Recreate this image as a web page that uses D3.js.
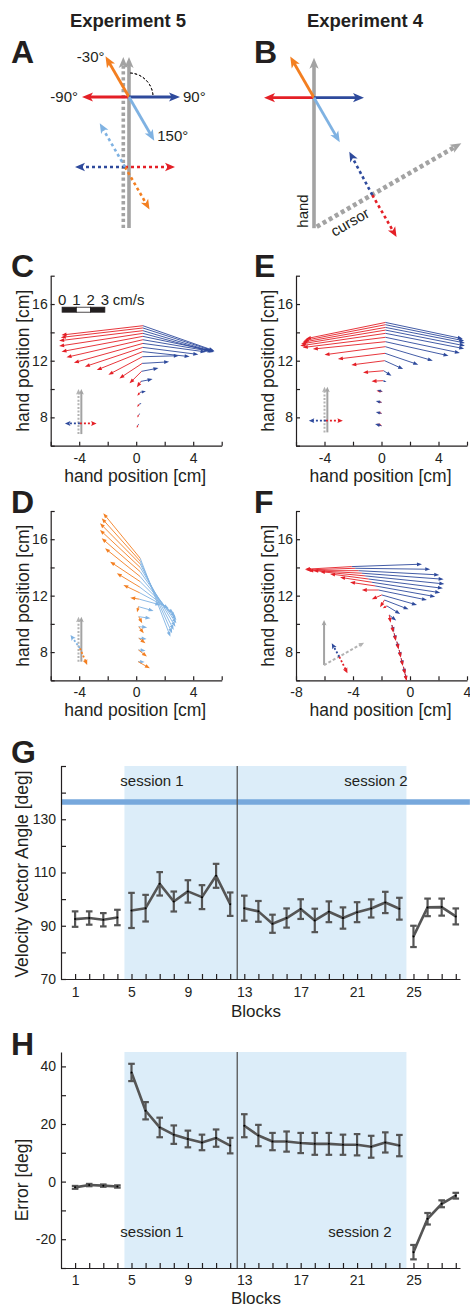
<!DOCTYPE html>
<html>
<head>
<meta charset="utf-8">
<script src="https://cdn.jsdelivr.net/npm/d3@7"></script>
<style>
  body { margin: 0; background: #fff; }
  svg { display: block; }
  text { font-family: "Liberation Sans", Arial, Helvetica, sans-serif; fill: #231f20; }
</style>
</head>
<body>
<svg id="fig" width="470" height="1308"></svg>
<script>
// ---------- data: panels G and H ----------
const blocks = d3.range(1, 29);
const angleMean = [92.5, 92.9, 92.25, 93.1, 95.75, 96.6, 105.75, 99.1, 102.9, 100.75, 108.75, 98.1, 96.6, 95.4,
  90.75, 92.9, 96.25, 92.0, 95.25, 92.9, 95.1, 96.5, 98.75, 96.4, 86.0, 96.9, 97.0, 93.5];
const angleErr = [2.9, 2.5, 2.5, 2.9, 6.6, 5.0, 4.4, 3.75, 4.2, 4.5, 4.5, 4.4, 4.7, 3.9,
  3.4, 3.6, 3.7, 4.4, 3.9, 4.0, 3.75, 3.4, 4.0, 4.1, 4.0, 3.3, 3.2, 3.0];
const errorMean = [-2.0, -1.2, -1.4, -1.7, 37.9, 24.6, 18.8, 16.3, 14.8, 13.6, 15.1, 12.5, 19.4, 16.0,
  13.9, 13.9, 13.4, 13.1, 13.1, 12.8, 12.8, 12.1, 13.6, 12.5, -24.5, -12.9, -7.7, -4.9];
const errorErr = [0.5, 0.4, 0.4, 0.4, 3.0, 3.0, 3.4, 3.2, 2.9, 2.7, 3.0, 2.7, 4.0, 3.7,
  3.0, 3.5, 3.5, 3.8, 3.8, 3.5, 3.7, 3.8, 3.5, 3.7, 2.5, 2.0, 1.2, 1.0];
const phases = [[1, 4], [5, 12], [13, 24], [25, 28]];
const sessionSpan = [4.5, 24.5];
const sessionSplit = 12.5;
const targetAngle = 136.5;
const blockTickLabels = [1, 5, 9, 13, 17, 21, 25];

// ---------- data: vector fields (positions cm, velocities cm/s) ----------
const cPosX = [0.47, 0.47, 0.47, 0.47, 0.47, 0.47, 0.47, 0.46, 0.45, 0.44, 0.42, 0.38, 0.33, 0.28, 0.22, 0.18, 0.12];
const cPosY = [14.47, 14.31, 14.12, 13.93, 13.72, 13.48, 13.22, 12.94, 12.64, 12.28, 11.81, 11.25, 10.54, 9.77, 8.94, 8.19, 7.45];
const cRedVx = [-5.71, -5.76, -5.88, -5.88, -5.71, -5.36, -4.84, -4.06, -3.22, -2.39, -1.6, -0.85, -0.28, -0.2, -0.15, -0.1, -0.08];
const cRedVy = [-0.66, -0.67, -0.71, -0.9, -1.08, -1.24, -1.36, -1.36, -1.3, -1.27, -1.06, -0.85, -0.42, -0.25, -0.2, -0.2, -0.2];
const cBlueVx = [4.99, 5.03, 4.99, 4.89, 4.75, 4.65, 4.4, 3.9, 3.3, 2.55, 1.89, 1.18, 0.82, 0.4, 0.15, 0.1, 0.08];
const cBlueVy = [-1.76, -1.65, -1.51, -1.32, -1.01, -0.8, -0.6, -0.5, -0.35, 0.07, 0.11, 0.23, 0.16, 0.07, 0.05, 0.08, 0.1];

const ePosX = [0.28, 0.28, 0.28, 0.28, 0.28, 0.28, 0.28, 0.27, 0.25, 0.22, 0.15, 0.1, 0.05, 0.0, 0.0, 0.0];
const ePosY = [14.7, 14.54, 14.35, 14.16, 13.93, 13.65, 13.34, 12.99, 12.52, 12.0, 11.29, 10.59, 9.83, 9.06, 8.28, 7.41];
const eRedVx = [-5.58, -5.73, -5.83, -5.93, -5.98, -5.8, -5.1, -4.27, -3.31, -2.34, -1.45, -0.8, -0.4, -0.3, -0.3, -0.3];
const eRedVy = [-1.15, -1.12, -1.05, -0.98, -0.88, -0.72, -0.52, -0.57, -0.4, -0.3, -0.12, -0.04, 0.05, 0.05, 0.1, 0.15];
const eBlueVx = [5.42, 5.52, 5.57, 5.57, 5.52, 5.22, 4.42, 3.33, 2.33, 1.3, 0.55, 0.25, -0.35, -0.4, -0.4, -0.45];
const eBlueVy = [-1.15, -1.14, -1.1, -1.11, -1.08, -1.1, -0.99, -0.99, -0.8, -0.59, -0.35, -0.1, 0.1, 0.1, 0.1, 0.12];

const dPosX = [0.28, 0.28, 0.28, 0.28, 0.28, 0.28, 0.27, 0.26, 0.25, 0.22, 0.16, 0.18, 0.18, 0.18, 0.16, 0.14];
const dPosY = [14.65, 14.45, 14.25, 14.0, 13.7, 13.35, 13.0, 12.6, 12.2, 11.75, 11.22, 10.51, 9.8, 8.98, 8.15, 7.32];
const dOrangeVx = [-2.59, -2.7, -2.82, -2.82, -2.7, -2.47, -2.1, -1.62, -1.15, -0.64, -0.1, 0.24, 0.35, 0.47, 0.59, 0.82];
const dOrangeVy = [3.19, 3.04, 2.88, 2.66, 2.37, 2.01, 1.41, 0.99, 0.56, 0.11, -0.4, -0.47, -0.47, -0.35, -0.47, -0.47];
const dLightVx = [2.12, 2.24, 2.35, 2.47, 2.54, 2.54, 2.48, 2.37, 2.03, 1.47, 1.06, 0.82, 0.59, 0.55, 0.5, 0.45];
const dLightVy = [-5.56, -5.12, -4.68, -4.2, -3.66, -3.07, -2.49, -1.85, -1.1, -0.41, -0.3, -0.12, -0.05, -0.05, -0.05, -0.02];

const fPosX = [-4.09, -3.85, -3.62, -3.38, -3.15, -2.92, -2.68, -2.45, -2.21, -1.98, -1.79, -1.62, -1.46, -1.27, -1.11, -0.92, -0.76, -0.62, -0.46, -0.34];
const fPosY = [14.06, 13.94, 13.77, 13.59, 13.4, 13.18, 12.95, 12.69, 12.4, 12.05, 11.69, 11.27, 10.63, 9.92, 9.33, 8.74, 8.15, 7.56, 6.96, 6.45];
const fRedVx = [-3.28, -3.45, -3.52, -3.41, -3.17, -2.69, -2.23, -1.76, -1.17, -0.7, -0.31, -0.29, 0.1, 0.1, 0.12, 0.12, 0.12, 0.12, 0.12, 0.1];
const fRedVy = [-0.19, -0.12, 0, 0.18, 0.3, 0.36, 0.35, 0.26, 0, -0.31, -0.51, -0.17, -0.55, -0.55, -0.55, -0.55, -0.55, -0.55, -0.55, -0.5];
const fBlueVx = [4.93, 5.27, 5.67, 5.74, 5.56, 5.23, 4.8, 4.22, 3.4, 2.47, 1.69, 0.93, 0.49, 0.15, 0.12, 0.12, 0.12, 0.12, 0.12, 0.1];
const fBlueVy = [0.17, -0.07, -0.3, -0.43, -0.57, -0.66, -0.74, -0.76, -0.71, -0.71, -0.66, -0.57, -0.4, -0.5, -0.5, -0.5, -0.5, -0.5, -0.5, -0.45];

// ---------- data: schematics A and B (angle deg clockwise from up, length in units) ----------
const handAngles = [-90, -30, 90, 150];
const aHandLen = [0.94, 0.94, 1.02, 1.01];
const aCursorAngles = [90, 150, -90, -30];
const aCursorLen = [1.0, 0.98, 1.0, 1.01];
const angleLabels = ["-90°", "-30°", "90°", "150°"];
const bHandLen = [1.0, 0.95, 1.0, 1.03];
const bCursorAngles = [150, -28];
const bCursorLen = [0.97, 0.98];
const cursorRotation = 60;

const RED = "#e41f26", BLUE = "#2e4a9c", ORANGE = "#f37f21", LIGHT = "#7fb2e2",
      GRAY = "#a3a3a3", DARK = "#555555", INK = "#231f20";
const handColors = [RED, ORANGE, BLUE, LIGHT];

const svg = d3.select("#fig");

// ---------- helpers ----------
function arrow(g, x1, y1, x2, y2, o) {
  const dx = x2 - x1, dy = y2 - y1, L = Math.hypot(dx, dy);
  if (L < 0.6) return;
  const ux = dx / L, uy = dy / L;
  const hl = Math.min(o.head, L * 0.7), hw = hl * o.ratio;
  const notch = o.notch || 1;
  g.append("line")
    .attr("x1", x1).attr("y1", y1)
    .attr("x2", x2 - ux * hl * notch * 0.9).attr("y2", y2 - uy * hl * notch * 0.9)
    .attr("stroke", o.color).attr("stroke-width", o.width)
    .attr("stroke-dasharray", o.dash || null);
  const bx = x2 - ux * hl, by = y2 - uy * hl;
  const pts = [[x2, y2], [bx - uy * hw, by + ux * hw],
               [x2 - ux * hl * notch, y2 - uy * hl * notch], [bx + uy * hw, by - ux * hw]];
  g.append("path").attr("d", "M" + pts.map(p => p.join(",")).join("L") + "Z")
    .attr("fill", o.color);
}

function label(txt, x, y, size, opts = {}) {
  return svg.append("text").attr("x", x).attr("y", y)
    .attr("font-size", size).attr("font-weight", opts.bold ? "bold" : null)
    .attr("text-anchor", opts.anchor || "start").text(txt);
}

function styleAxis(g) {
  g.attr("font-family", null).attr("font-size", null);
  g.selectAll("text").attr("font-size", 14).attr("fill", INK);
  g.selectAll("line,path").attr("stroke", INK).attr("stroke-width", 1.2);
}

function ylabel(txt, x, y) {
  svg.append("text").attr("transform", `translate(${x},${y}) rotate(-90)`)
    .attr("text-anchor", "middle").attr("font-size", 17.5).text(txt);
}

// ---------- titles and panel letters ----------
label("Experiment 5", 128, 27, 18.5, { bold: true, anchor: "middle" });
label("Experiment 4", 365, 27, 18.5, { bold: true, anchor: "middle" });
[["A", 11, 63], ["B", 254, 63], ["C", 11, 277], ["E", 254, 277],
 ["D", 11, 513], ["F", 254, 513], ["G", 11, 763], ["H", 11, 1055]]
  .forEach(([t, x, y]) => label(t, x, y, 32, { bold: true }));

// ---------- schematics ----------
function schematic(cx, cy) {
  const sx = d3.scaleLinear().domain([0, 1]).range([cx, cx + 50]);
  const sy = d3.scaleLinear().domain([0, 1]).range([cy, cy - 50]);
  const g = svg.append("g");
  const draw = (ox, oy, ang, len, o) => {
    const r = ang * Math.PI / 180;
    const tx = ox + len * Math.sin(r), ty = oy + len * Math.cos(r);
    arrow(g, sx(ox), sy(oy), sx(tx), sy(ty), o);
    return [sx(tx), sy(ty)];
  };
  return { g, draw };
}

const solidHead = (color, w) => ({ color, width: w, head: 11, ratio: 0.42, notch: 0.75 });
const dotted = (color) => ({ color, width: 2.6, dash: "3,3", head: 10, ratio: 0.42, notch: 0.75 });

// panel A
{
  const s = schematic(129, 97);
  s.draw(-0.114, -2.62, 0, 3.42, { ...solidHead(GRAY, 3.6), dash: "3.3,2.6" });
  s.draw(0, -2.62, 0, 3.42, solidHead(GRAY, 3.6));
  const tips = handAngles.map((a, i) => s.draw(0, 0, a, aHandLen[i], solidHead(handColors[i], 2.8)));
  aCursorAngles.forEach((a, i) => s.draw(-0.08, -1.4, a, aCursorLen[i], dotted(handColors[i])));
  // reference arc from hand direction to 90°
  const arc = d3.arc().innerRadius(24).outerRadius(24).startAngle(0.05).endAngle(Math.PI / 2 - 0.05);
  s.g.append("path").attr("d", arc()).attr("transform", "translate(129,97)")
    .attr("fill", "none").attr("stroke", INK).attr("stroke-width", 1).attr("stroke-dasharray", "2.5,2");
  const off = [[-4, 5, "end"], [-1, 6, "end"], [3, 5, "start"], [3, 0, "start"]];
  tips.forEach((t, i) => label(angleLabels[i], t[0] + off[i][0], t[1] + off[i][1], 15, { anchor: off[i][2] }));
}

// panel B
{
  const s = schematic(314, 97.7);
  s.draw(0, -2.61, 0, 3.41, solidHead(GRAY, 3.6));
  handAngles.forEach((a, i) => s.draw(0, 0, a, bHandLen[i], solidHead(handColors[i], 2.8)));
  s.draw(0.054, -2.58, cursorRotation, 3.34, { ...solidHead(GRAY, 4.6), dash: "4,3" });
  s.draw(1.166, -1.946, bCursorAngles[0], bCursorLen[0], dotted(RED));
  s.draw(1.166, -1.946, bCursorAngles[1], bCursorLen[1], dotted(BLUE));
  svg.append("text").attr("transform", "translate(303,211) rotate(-90)")
    .attr("text-anchor", "middle").attr("dy", "0.35em").attr("font-size", 15).text("hand");
  svg.append("text").attr("transform", `translate(350,222) rotate(${-90 + cursorRotation})`)
    .attr("text-anchor", "middle").attr("dy", "0.35em").attr("font-size", 15).text("cursor");
}

// ---------- vector field panels ----------
function vectorPanel(cfg) {
  const x = d3.scaleLinear().domain(cfg.xDomain).range(cfg.xRange);
  const y = d3.scaleLinear().domain([6, 18]).range(cfg.yRange);
  const g = svg.append("g");
  const lab = d => (d % 4 === 0 ? String(d) : "");
  g.append("g").attr("transform", `translate(0,${cfg.yRange[0]})`)
    .call(d3.axisBottom(x).tickValues(d3.range(cfg.xDomain[0], cfg.xDomain[1] + 0.1, 2))
      .tickSizeInner(-4).tickSizeOuter(0).tickPadding(7).tickFormat(lab))
    .call(styleAxis);
  g.append("g").attr("transform", `translate(${cfg.xRange[0]},0)`)
    .call(d3.axisLeft(y).tickValues(d3.range(6, 18.1, 2))
      .tickSizeInner(-4).tickSizeOuter(0).tickPadding(3).tickFormat(lab))
    .call(styleAxis);

  const vecStyle = c => ({ color: c, width: 0.9, head: 5, ratio: 0.38 });
  cfg.series.forEach(sr => {
    sr.px.forEach((px, i) => {
      const py = sr.py[i];
      arrow(g, x(px), y(py), x(px + sr.vx[i]), y(py + sr.vy[i]), vecStyle(sr.color));
    });
  });

  // inset: hand / cursor directions
  const ins = cfg.inset;
  const dot = c => ({ color: c, width: 1.8, dash: "2,2", head: 5.5, ratio: 0.45, notch: 0.8 });
  const gs = { color: GRAY, width: 2, head: 5.5, ratio: 0.45, notch: 0.8 };
  arrow(g, x(ins.hand[0]), y(ins.hand[1]), x(ins.hand[2]), y(ins.hand[3]), gs);
  if (ins.cursor) {
    const c = ins.cursor;
    arrow(g, x(c[0]), y(c[1]), x(c[2]), y(c[3]), { ...gs, color: "#b3b3b3", dash: ins.cursorDash || "2,1.6" });
  }
  ins.dirs.forEach(d => arrow(g, x(d[0]), y(d[1]), x(d[2]), y(d[3]), dot(d[4])));

  const cx = (cfg.xRange[0] + cfg.xRange[1]) / 2 - 1;
  label("hand position [cm]", cx, cfg.yRange[0] + 36, 17.5, { anchor: "middle" });
  ylabel("hand position [cm]", cfg.xRange[0] - 22, y(12));
  return { x, y, g };
}

const C = vectorPanel({
  xDomain: [-6, 6], xRange: [50.7, 221.7], yRange: [445.7, 275.7],
  series: [
    { px: cPosX, py: cPosY, vx: cRedVx, vy: cRedVy, color: RED },
    { px: cPosX, py: cPosY, vx: cBlueVx, vy: cBlueVy, color: BLUE }],
  inset: { hand: [-3.85, 6.82, -3.85, 10.0], cursor: [-4.05, 6.82, -4.05, 10.0],
           dirs: [[-3.95, 7.57, -5.0, 7.57, BLUE], [-3.95, 7.57, -2.78, 7.57, RED]] }
});
// scale bar: 1 cm/s drawn as 1 cm
{
  const barStart = -5.2, barY = 15.6, units = [0, 1, 2, 3];
  units.slice(0, 3).forEach(u => {
    C.g.append("rect").attr("x", C.x(barStart + u)).attr("y", C.y(barY) - 2.5)
      .attr("width", C.x(barStart + u + 1) - C.x(barStart + u)).attr("height", 5)
      .attr("fill", u === 1 ? "#fff" : INK).attr("stroke", INK).attr("stroke-width", 0.8);
  });
  units.forEach(u => label(String(u), C.x(barStart + u), C.y(barY) - 5, 15, { anchor: "middle" }));
  label("cm/s", C.x(barStart + 3) + 8, C.y(barY) - 5, 15);
}

vectorPanel({
  xDomain: [-6, 6], xRange: [296, 467], yRange: [445.7, 275.7],
  series: [
    { px: ePosX, py: ePosY, vx: eRedVx, vy: eRedVy, color: RED },
    { px: ePosX, py: ePosY, vx: eBlueVx, vy: eBlueVy, color: BLUE }],
  inset: { hand: [-3.8, 6.94, -3.8, 10.17], cursor: [-4.0, 6.94, -4.0, 10.17],
           dirs: [[-3.9, 7.77, -5.1, 7.77, BLUE], [-3.9, 7.77, -2.71, 7.77, RED]] }
});

vectorPanel({
  xDomain: [-6, 6], xRange: [50.7, 221.7], yRange: [680.3, 511],
  series: [
    { px: dPosX, py: dPosY, vx: dLightVx, vy: dLightVy, color: LIGHT },
    { px: dPosX, py: dPosY, vx: dOrangeVx, vy: dOrangeVy, color: ORANGE }],
  inset: { hand: [-3.85, 7.32, -3.85, 10.51], cursor: [-4.05, 7.32, -4.05, 10.51],
           dirs: [[-3.95, 8.27, -4.61, 9.21, LIGHT], [-3.95, 8.27, -3.44, 7.09, ORANGE]] }
});

vectorPanel({
  xDomain: [-8, 4], xRange: [296, 467], yRange: [680.3, 511],
  series: [
    { px: fPosX, py: fPosY, vx: fBlueVx, vy: fBlueVy, color: BLUE },
    { px: fPosX, py: fPosY, vx: fRedVx, vy: fRedVy, color: RED }],
  inset: { hand: [-6.03, 7.08, -6.03, 10.28], cursor: [-6.03, 7.08, -3.22, 8.67], cursorDash: "3,2",
           dirs: [[-4.96, 7.67, -5.49, 8.62, BLUE], [-4.96, 7.67, -4.39, 6.5, RED]] }
});

// ---------- block panels G and H ----------
function blockPanel(cfg) {
  const x = d3.scaleLinear().domain([0, 28.3]).range([61, 460]);
  const y = d3.scaleLinear().domain(cfg.yDomain).range(cfg.yRange);
  const g = svg.append("g");
  const top = cfg.yRange[1], bot = cfg.yRange[0];
  g.append("rect").attr("x", x(sessionSpan[0])).attr("y", top)
    .attr("width", x(sessionSpan[1]) - x(sessionSpan[0])).attr("height", bot - top)
    .attr("fill", "#dcedf9");
  if (cfg.reference != null) {
    g.append("line").attr("x1", x(0)).attr("x2", x(29))
      .attr("y1", y(cfg.reference)).attr("y2", y(cfg.reference))
      .attr("stroke", "#77a8dc").attr("stroke-width", 5.5);
  }
  g.append("line").attr("x1", x(sessionSplit)).attr("x2", x(sessionSplit))
    .attr("y1", top).attr("y2", bot).attr("stroke", DARK).attr("stroke-width", 1.3);

  g.append("g").attr("transform", `translate(0,${bot})`)
    .call(d3.axisBottom(x).tickValues(blocks).tickSizeInner(-5).tickSizeOuter(0).tickPadding(cfg.xPad)
      .tickFormat(d => blockTickLabels.includes(d) ? String(d) : ""))
    .call(styleAxis);
  g.append("g").attr("transform", `translate(${x(0)},0)`)
    .call(d3.axisLeft(y).tickValues(cfg.yTicks).tickSizeInner(-5).tickSizeOuter(0).tickPadding(5)
      .tickFormat(d => cfg.yLabels.includes(d) ? String(d) : ""))
    .call(styleAxis);

  const line = d3.line().x(i => x(blocks[i])).y(i => y(cfg.mean[i]));
  phases.forEach(([a, b]) => {
    const idx = d3.range(a - 1, b);
    g.append("path").attr("d", line(idx)).attr("fill", "none")
      .attr("stroke", DARK).attr("stroke-width", 2.6).attr("stroke-linejoin", "round");
  });
  blocks.forEach((b, i) => {
    const m = cfg.mean[i], e = cfg.err[i];
    const bx = x(b);
    g.append("line").attr("x1", bx).attr("x2", bx).attr("y1", y(m - e)).attr("y2", y(m + e))
      .attr("stroke", DARK).attr("stroke-width", 2.2);
    [m - e, m + e].forEach(v => g.append("line").attr("x1", bx - 3.3).attr("x2", bx + 3.3)
      .attr("y1", y(v)).attr("y2", y(v)).attr("stroke", DARK).attr("stroke-width", 2.2));
    g.append("circle").attr("cx", bx).attr("cy", y(m)).attr("r", 1).attr("fill", "#000");
  });

  cfg.sessions.forEach(s => label(s[0], s[1], s[2], 15, { anchor: "middle" }));
  label("Blocks", 256, cfg.xLabelY, 17, { anchor: "middle" });
  ylabel(cfg.yTitle, 28, cfg.yTitleY);
}

blockPanel({
  yDomain: [70, 150], yRange: [979, 766], yTicks: d3.range(70, 151, 10), yLabels: [70, 90, 110, 130],
  mean: angleMean, err: angleErr, reference: targetAngle, xPad: 8,
  sessions: [["session 1", 152, 786], ["session 2", 376, 786]],
  xLabelY: 1017, yTitle: "Velocity Vector Angle [deg]", yTitleY: 874
});

blockPanel({
  yDomain: [-30, 45], yRange: [1268, 1052], yTicks: d3.range(-30, 41, 10), yLabels: [-20, 0, 20, 40],
  mean: errorMean, err: errorErr, reference: null, xPad: 7,
  sessions: [["session 1", 152, 1237], ["session 2", 360, 1237]],
  xLabelY: 1304, yTitle: "Error [deg]", yTitleY: 1180
});
</script>
</body>
</html>
